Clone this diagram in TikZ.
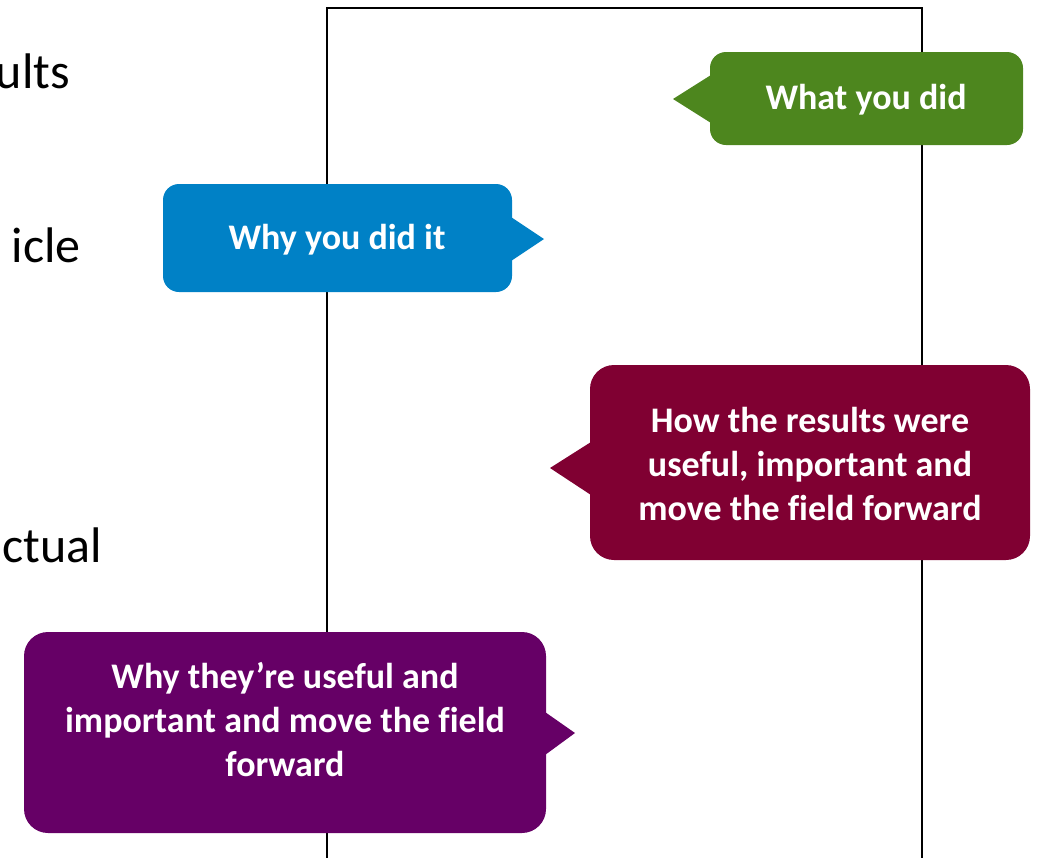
\documentclass[tikz,border=0pt]{standalone}
\usepackage{fontspec}
\setmainfont[Ligatures=NoCommon]{Carlito}
\begin{document}
\definecolor{calloutgreen}{RGB}{77,134,30}
\definecolor{calloutblue}{RGB}{0,129,198}
\definecolor{calloutmaroon}{RGB}{128,0,50}
\definecolor{calloutpurple}{RGB}{102,0,102}
\begin{tikzpicture}[x=1pt,y=-1pt,
  bodytext/.style={font=\fontsize{50}{60}\selectfont, inner sep=0pt},
  bubble/.style={rounded corners=#1},
  bubble/.default=16pt,
  bubbletext/.style={text=white, font=\fontsize{36}{44}\selectfont\bfseries, align=center, inner sep=0pt}]
  \useasboundingbox (0,0) rectangle (1044,857);
  \begin{scope}
    \clip (0,0) rectangle (1044,857);
    % partial words of the slide text
    \node[bodytext, anchor=base east] (t1) at (70,88) {ults};
    \node[bodytext, anchor=base east] (t2) at (81,262) {icle};
    \node[bodytext, anchor=base east] (t3) at (102,562) {ctual};
    % page frame
    \draw[line width=2.6pt] (327,880) -- (327,8) -- (922,8) -- (922,880);

    % green callout, pointer to the left
    \fill[calloutgreen, bubble] (710,52) rectangle (1023,145);
    \fill[calloutgreen] (711,75) -- (673,99) -- (711,123) -- cycle;
    \node[bubbletext] (what) at (866,100) {What you did};

    % blue callout, pointer to the right
    \fill[calloutblue, bubble] (163,184) rectangle (512,292);
    \fill[calloutblue] (511,217) -- (544,239) -- (511,261) -- cycle;
    \node[bubbletext] (why) at (337,240) {Why you did it};

    % maroon callout, pointer to the left
    \fill[calloutmaroon, bubble=24pt] (590,365) rectangle (1030,560);
    \fill[calloutmaroon] (591,442) -- (550,468) -- (591,495) -- cycle;
    \node[bubbletext] (how) at (810,464) {How the results were\\useful, important and\\move the field forward};

    % purple callout, pointer to the right
    \fill[calloutpurple, bubble=24pt] (24,632) rectangle (546,833);
    \fill[calloutpurple] (545,712) -- (575,733) -- (545,755) -- cycle;
    \node[bubbletext] (useful) at (285,720) {Why they’re useful and\\important and move the field\\forward};
  \end{scope}
\end{tikzpicture}
\end{document}
